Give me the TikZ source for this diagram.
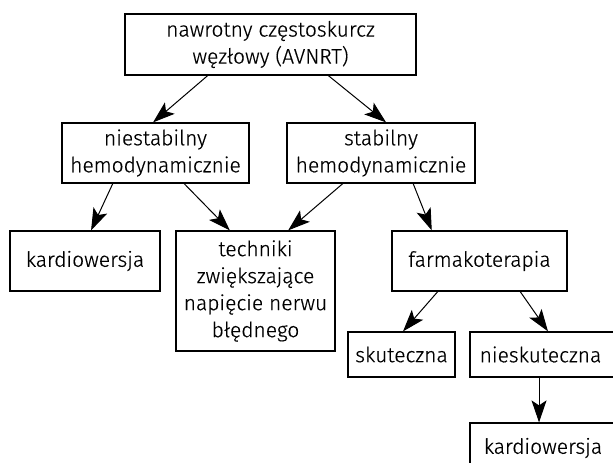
\documentclass[tikz,border=0pt]{standalone}
\usepackage{fontspec}
\setmainfont{Fira Sans Light}[FakeBold=0.4]
\usetikzlibrary{arrows.meta,calc}
\tikzset{
  box/.style={draw=black, line width=1.2pt, fill=white, inner sep=0pt, align=center,
    font=\fontsize{21}{27}\selectfont, text=black},
  conn/.style={line width=1pt, -{Stealth[length=22pt,width=15pt,inset=5pt]}}
}
\newcommand\atbot[2]{($(#1.south west)!#2!(#1.south east)$)}
\newcommand\attop[2]{($(#1.north west)!#2!(#1.north east)$)}
\begin{document}
\begin{tikzpicture}[x=1pt,y=-1pt]
\useasboundingbox (0,0) rectangle (613,463);
\clip (0,0) rectangle (613,463);
\node[box, minimum width=291pt, minimum height=61pt] (top) at (270.5,44.5) {nawrotny częstoskurcz\\węzłowy (AVNRT)};
\node[box, minimum width=187pt, minimum height=60pt] (nst) at (155.5,153) {niestabilny\\hemodynamicznie};
\node[box, minimum width=188pt, minimum height=60pt] (st) at (381,153) {stabilny\\hemodynamicznie};
\node[box, minimum width=150pt, minimum height=60pt] (k1) at (85,261) {kardiowersja};
\node[box, minimum width=159pt, minimum height=120pt] (tech) at (255.5,291) {techniki\\zwiększające\\napięcie nerwu\\błędnego};
\node[box, minimum width=175pt, minimum height=60pt] (farm) at (479.5,261) {farmakoterapia};
\node[box, minimum width=107pt, minimum height=45pt] (sk) at (401.5,354.5) {skuteczna};
\node[box, minimum width=146pt, minimum height=45pt, text width=146pt] (nsk) at (543,354.5) {\hspace*{-5pt}nieskuteczna};
\node[box, minimum width=146pt, minimum height=50pt, text width=146pt] (k2) at (543,448) {kardiowersja};
\draw[conn] \atbot{top}{0.285} -- \attop{nst}{0.487};
\draw[conn] \atbot{top}{0.698} -- \attop{st}{0.527};
\draw[conn] \atbot{nst}{0.273} -- \attop{k1}{0.54};
\draw[conn] \atbot{nst}{0.652} -- \attop{tech}{0.34};
\draw[conn] \atbot{st}{0.298} -- \attop{tech}{0.704};
\draw[conn] \atbot{st}{0.67} -- \attop{farm}{0.229};
\draw[conn] \atbot{farm}{0.263} -- \attop{sk}{0.514};
\draw[conn] \atbot{farm}{0.731} -- \attop{nsk}{0.534};
\draw[conn] \atbot{nsk}{0.473} -- \attop{k2}{0.473};
\end{tikzpicture}
\end{document}
